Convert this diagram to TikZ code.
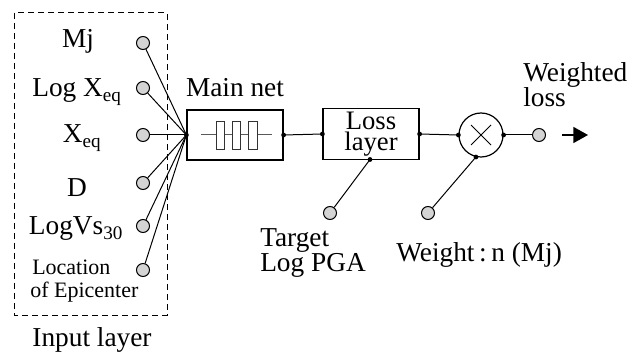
\documentclass[tikz,border=0pt]{standalone}
\usepackage{fontspec}
\setmainfont{Liberation Serif}
\usetikzlibrary{arrows.meta}

\begin{document}
\begin{tikzpicture}[x=0.75pt,y=-0.75pt,
  txt/.style={font=\fontsize{20.5}{22}\selectfont, inner sep=0, anchor=base},
  smalltxt/.style={font=\fontsize{16.5}{18}\selectfont, inner sep=0, anchor=base west},
  port/.style={circle, draw, line width=0.75pt, fill=black!17, minimum size=9.75pt, inner sep=0},
  jdot/.style={circle, fill=black, minimum size=3.6pt, inner sep=0},
  blk/.style={draw, line width=0.9pt, fill=white, inner sep=0},
  wire/.style={line width=0.75pt},
  cell/.style={draw=black!80, line width=0.75pt, fill=white}
]
\useasboundingbox (0,0) rectangle (638,352);

% input layer frame
\draw[dash pattern=on 4.5pt off 3pt, line width=0.75pt] (14,13) rectangle (167,315);
\node[txt] (inlbl) at (92,346) {Input layer};

% input ports
\node[port] (pmj)  at (143,43)  {};
\node[port] (plx)  at (143,88)  {};
\node[port] (px)   at (143,135) {};
\node[port] (pd)   at (143,183) {};
\node[port] (pvs)  at (143,226) {};
\node[port] (ploc) at (143,270) {};

% input labels
\node[txt] (lmj)  at (78,48)  {Mj};
\node[txt] (llx)  at (77,97)  {Log X\textsubscript{eq}};
\node[txt] (lx)   at (82,143) {X\textsubscript{eq}};
\node[txt] (ld)   at (77,197) {D};
\node[txt] (lvs)  at (76,235) {LogVs\textsubscript{30}};
\node[smalltxt] (lloc1) at (32,275) {Location};
\node[smalltxt] (lloc2) at (30,297) {of Epicenter};

% main network block
\node[blk, minimum width=72pt, minimum height=37.5pt] (main) at (235,135) {};
\node[txt] (mainlbl) at (235,97) {Main net};
\draw[black!65, line width=0.75pt] (201,135) -- (272,135);
\draw[cell] (216,122) rectangle (224,150);
\draw[cell] (232,122) rectangle (240,150);
\draw[cell] (248,122) rectangle (257,150);

% inputs converge on the main network
\foreach \p in {pmj,plx,px,pd,pvs,ploc}
  \draw[wire] (\p) -- (main.west);
\node[jdot] (jin) at (main.west) {};

% loss block
\node[blk, minimum width=72pt, minimum height=38.25pt] (loss) at (371,134) {};
\node[font=\fontsize{20}{15.5}\selectfont, inner sep=0, align=center] (losst)
  at (371,134) {Loss\\layer};

% multiplier
\node[circle, draw, line width=0.9pt, minimum size=33pt, inner sep=0] (mul) at (481,135) {};
\draw[line width=0.6pt] ([shift={(-10,-10)}]mul.center) -- ([shift={(10,10)}]mul.center);
\draw[line width=0.6pt] ([shift={(-10,10)}]mul.center) -- ([shift={(10,-10)}]mul.center);

% output
\node[port] (pout) at (539,135) {};
\node[txt, anchor=base west] (outl1) at (523,82) {Weighted};
\node[txt, anchor=base west] (outl2) at (523,107) {loss};
\coordinate (arrs) at (562,135);
\coordinate (arre) at (588,135);
\draw[line width=1.2pt, -{Triangle[length=11pt, width=12pt]}] (arrs) -- (arre);

% signal chain
\draw[wire] (main.east) -- (loss.west);
\node[jdot] (d1) at (main.east) {};
\node[jdot] (d2) at (loss.west) {};
\draw[wire] (loss.east) -- (mul.west);
\node[jdot] (d3) at (loss.east) {};
\node[jdot] (d4) at (mul.west) {};
\draw[wire] (mul.east) -- (pout);
\node[jdot] (d5) at (mul.east) {};

% target input
\node[port] (ptgt) at (330,213) {};
\coordinate (lossb) at (370,159.5);
\draw[wire] (ptgt) -- (lossb);
\node[jdot] (d6) at (lossb) {};
\node[txt, anchor=base west] (tgt1) at (260,247) {Target};
\node[txt, anchor=base west] (tgt2) at (260,272) {Log PGA};

% weight input
\node[port] (pw) at (428,213) {};
\draw[wire] (pw) -- (mul.-103);
\node[jdot] (d7) at (mul.-103) {};
\node[txt, anchor=base west] (wl) at (396,262) {Weight\,:\,n (Mj)};
\end{tikzpicture}
\end{document}
